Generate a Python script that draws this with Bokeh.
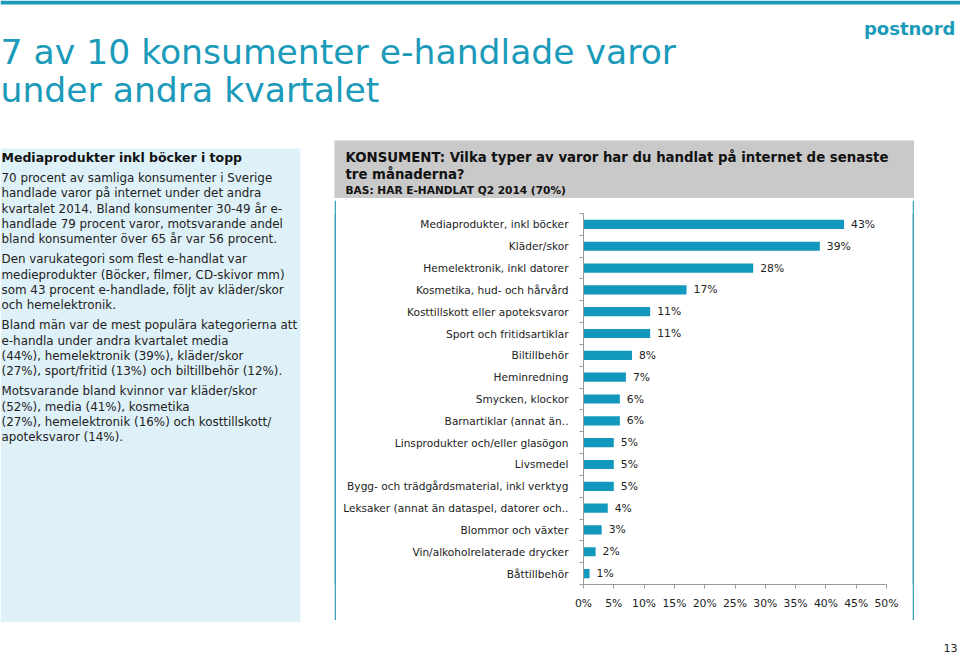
from bokeh.plotting import figure
from bokeh.layouts import column, row
from bokeh.models import Range1d, FixedTicker, ColumnDataSource, PrintfTickFormatter
from bokeh.core.properties import value
from bokeh.embed import file_html
from bokeh.resources import INLINE

# ---------------- data ----------------
categories = [
    "Mediaprodukter, inkl böcker",
    "Kläder/skor",
    "Hemelektronik, inkl datorer",
    "Kosmetika, hud- och hårvård",
    "Kosttillskott eller apoteksvaror",
    "Sport och fritidsartiklar",
    "Biltillbehör",
    "Heminredning",
    "Smycken, klockor",
    "Barnartiklar (annat än..",
    "Linsprodukter och/eller glasögon",
    "Livsmedel",
    "Bygg- och trädgårdsmaterial, inkl verktyg",
    "Leksaker (annat än dataspel, datorer och..",
    "Blommor och växter",
    "Vin/alkoholrelaterade drycker",
    "Båttillbehör",
]
values = [43, 39, 28, 17, 11, 11, 8, 7, 6, 6, 5, 5, 5, 4, 3, 2, 1]
x_ticks = [0, 5, 10, 15, 20, 25, 30, 35, 40, 45, 50]

title_lines = ["7 av 10 konsumenter e-handlade varor", "under andra kvartalet"]
panel_heading = "Mediaprodukter inkl böcker i topp"
panel_paragraphs = [
    ["70 procent av samliga konsumenter i Sverige",
     "handlade varor på internet under det andra",
     "kvartalet 2014. Bland konsumenter 30-49 år e-",
     "handlade 79 procent varor, motsvarande andel",
     "bland konsumenter över 65 år var 56 procent."],
    ["Den varukategori som flest e-handlat var",
     "medieprodukter (Böcker, filmer, CD-skivor mm)",
     "som 43 procent e-handlade, följt av kläder/skor",
     "och hemelektronik."],
    ["Bland män var de mest populära kategorierna att",
     "e-handla  under andra kvartalet media",
     "(44%), hemelektronik (39%), kläder/skor",
     "(27%),  sport/fritid (13%)  och biltillbehör (12%)."],
    ["Motsvarande bland kvinnor var kläder/skor",
     "(52%), media (41%), kosmetika",
     "(27%), hemelektronik (16%) och kosttillskott/",
     "apoteksvaror (14%)."],
]
header_lines = ["KONSUMENT: Vilka typer av varor har du handlat på internet de senaste",
                "tre månaderna?"]
header_base = "BAS: HAR E-HANDLAT Q2 2014 (70%)"
logo_text = "postnord"
page_number = "13"

# ---------------- style ----------------
FONT = "DejaVu Sans"
TEAL = "#1b9ab9"
BAR = "#1398bd"
BORDER = "#3a9fb5"
GRAY = "#c9c9c9"
PANEL = "#dff1f8"
TXT = "#222222"


def deco(x0, x1, y0, y1, fill="white"):
    f = figure(width=x1 - x0, height=y1 - y0,
               x_range=Range1d(x0, x1), y_range=Range1d(y1, y0),
               output_backend="svg", toolbar_location=None,
               x_axis_type=None, y_axis_type=None, min_border=0)
    f.outline_line_color = None
    f.background_fill_color = fill
    f.border_fill_color = fill
    return f


def txt(f, x, y, s, size, color=TXT, bold=False, align="left", baseline="middle"):
    f.text(x=[x], y=[y], text=[s], text_font=value(FONT), text_font_size=size,
           text_color=color, text_align=align, text_baseline=baseline,
           text_font_style="bold" if bold else "normal")


# ---------------- top: line, title, logo ----------------
top = deco(0, 960, 0, 140)
top.quad(left=0, right=960, top=0, bottom=4, fill_color=TEAL, line_color=None)
txt(top, 0, 51, title_lines[0], "34.6px", color=TEAL, baseline="alphabetic")
txt(top, 0, 89, title_lines[1], "34.6px", color=TEAL, baseline="alphabetic")
txt(top, 955, 28, logo_text, "18px", color=TEAL, bold=True, align="right")

# ---------------- left text panel ----------------
left = deco(0, 334, 140, 622)
left.quad(left=0, right=300, top=148, bottom=622, fill_color=PANEL, line_color=None)
txt(left, 1, 157, panel_heading, "12.5px", color="#111111", bold=True)
yy = 177.5
for para in panel_paragraphs:
    for line in para:
        txt(left, 1, yy, line, "11.9px")
        yy += 15.3
    yy += 4.8

# ---------------- chart header ----------------
head = deco(334, 914, 140, 198, fill=GRAY)
txt(head, 345, 157, header_lines[0], "13.3px", color="#111111", bold=True)
txt(head, 345, 174, header_lines[1], "13.3px", color="#111111", bold=True)
txt(head, 345, 189, header_base, "10.6px", color="#111111", bold=True)

# ---------------- border strips ----------------
b_top = deco(334, 914, 198, 200, fill=BORDER)
b_bot = deco(334, 914, 620, 622, fill=BORDER)
b_left = deco(334, 336, 200, 620, fill=BORDER)
b_right = deco(912, 914, 200, 620, fill=BORDER)

# ---------------- bar chart ----------------
n = len(categories)
src = ColumnDataSource(dict(idx=list(range(n)), val=values,
                            lab=[f"{v}%" for v in values]))
chart = figure(width=576, height=420, x_range=Range1d(0, 50),
               y_range=Range1d(n - 0.5, -0.5),
               output_backend="svg", toolbar_location=None,
               min_border_left=247, min_border_right=26,
               min_border_top=13, min_border_bottom=36)
chart.outline_line_color = None
chart.grid.visible = False
chart.hbar(y="idx", left=0, right="val", height=0.42, source=src,
           fill_color=BAR, line_color=None)
chart.text(x="val", y="idx", text="lab", source=src, x_offset=7,
           text_baseline="middle", text_align="left",
           text_font=value(FONT), text_font_size="10.8px", text_color=TXT)

xa = chart.xaxis[0]
xa.ticker = FixedTicker(ticks=x_ticks)
xa.formatter = PrintfTickFormatter(format="%d%%")
xa.axis_line_color = "#9a9a9a"
xa.major_tick_line_color = "#9a9a9a"
xa.major_tick_out = 4
xa.major_tick_in = 0
xa.minor_tick_line_color = None
xa.major_label_standoff = 8
xa.major_label_text_font = FONT
xa.major_label_text_font_size = "10.8px"
xa.major_label_text_color = TXT

ya = chart.yaxis[0]
ya.ticker = FixedTicker(ticks=list(range(n)),
                        minor_ticks=[i - 0.5 for i in range(n + 1)])
ya.major_label_overrides = {i: c for i, c in enumerate(categories)}
ya.axis_line_color = "#9a9a9a"
ya.major_tick_line_color = None
ya.major_tick_out = 0
ya.major_tick_in = 0
ya.minor_tick_line_color = "#9a9a9a"
ya.minor_tick_out = 4
ya.minor_tick_in = 0
ya.major_label_standoff = 11
ya.major_label_text_font = FONT
ya.major_label_text_font_size = "10.6px"
ya.major_label_text_color = TXT

# ---------------- right filler & footer ----------------
right = deco(914, 960, 140, 622)
foot = deco(0, 960, 622, 654)
txt(foot, 957, 647, page_number, "11px", align="right")

chart_block = column(head, b_top, row(b_left, chart, b_right), b_bot, spacing=0)
middle = row(left, chart_block, right, spacing=0)
page = column(top, middle, foot, spacing=0)

open("out.html", "w").write(file_html(page, INLINE))
